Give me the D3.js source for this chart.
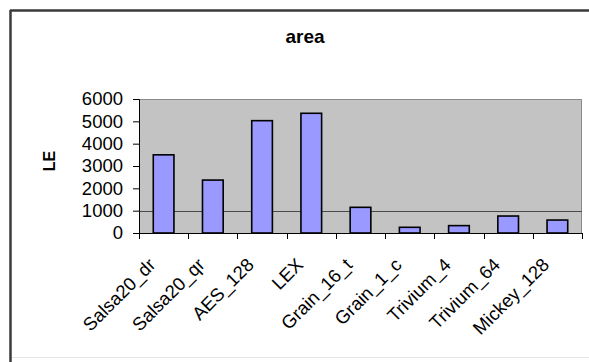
<html>

<head>
    <script src="https://d3js.org/d3.v7.min.js"></script>
    <style>
        body { margin: 0; background: #fff; }
        text { font-family: Arial, "Liberation Sans", sans-serif; fill: #000; }
    </style>
</head>

<body>
    <div id="chart"></div>
    <script>
        const ciphers = ["Salsa20_dr", "Salsa20_qr", "AES_128", "LEX", "Grain_16_t", "Grain_1_c", "Trivium_4", "Trivium_64", "Mickey_128"];
        const areaLE = [3500, 2370, 5030, 5360, 1150, 255, 330, 760, 580];
        const yTicks = [0, 1000, 2000, 3000, 4000, 5000, 6000];
        const gridValues = [1000];

        const svg = d3.select("#chart")
            .append("svg")
            .attr("width", 589)
            .attr("height", 362);

        // outer chart frame
        svg.append("rect").attr("width", 589).attr("height", 362).attr("fill", "#fff");
        svg.append("line").attr("x1", 10).attr("x2", 589).attr("y1", 10.5).attr("y2", 10.5)
            .attr("stroke", "#3a3a3a").attr("stroke-width", 2.5);
        svg.append("line").attr("x1", 10.5).attr("x2", 10.5).attr("y1", 10).attr("y2", 362)
            .attr("stroke", "#3a3a3a").attr("stroke-width", 2.5);
        svg.append("line").attr("x1", 12).attr("x2", 589).attr("y1", 357.5).attr("y2", 357.5)
            .attr("stroke", "#e4e4e4").attr("stroke-width", 1);

        const margins = { top: 99, right: 7, bottom: 129, left: 139 };
        const chartWidth = 589 - margins.left - margins.right;
        const chartHeight = 362 - margins.top - margins.bottom;

        const xScale = d3.scaleBand().domain(ciphers).range([0, chartWidth])
            .paddingInner(0.58).paddingOuter(0.29);
        const yScale = d3.scaleLinear().domain([0, 6000]).range([chartHeight, 0]);

        const chartArea = svg.append("g")
            .attr("transform", "translate(" + margins.left + "," + margins.top + ")");

        // plot area
        chartArea.append("rect")
            .attr("width", chartWidth).attr("height", chartHeight)
            .attr("fill", "#c3c3c3");
        chartArea.append("path")
            .attr("d", "M0,0.5H" + (chartWidth - 0.5) + "V" + chartHeight)
            .attr("fill", "none").attr("stroke", "#8a8a8a").attr("stroke-width", 1);

        chartArea.selectAll(".grid").data(gridValues)
            .join("line")
            .attr("class", "grid")
            .attr("x1", 0).attr("x2", chartWidth)
            .attr("y1", d => Math.round(yScale(d)) + 0.5)
            .attr("y2", d => Math.round(yScale(d)) + 0.5)
            .attr("stroke", "#4a4a4a").attr("stroke-width", 1);

        chartArea.selectAll(".bar").data(areaLE)
            .join("rect")
            .attr("class", "bar")
            .attr("x", (d, i) => xScale(ciphers[i]))
            .attr("y", d => yScale(d))
            .attr("width", xScale.bandwidth())
            .attr("height", d => chartHeight - yScale(d))
            .attr("fill", "#9999ff")
            .attr("stroke", "#000")
            .attr("stroke-width", 1.6);

        // y axis
        const leftAxis = d3.axisLeft(yScale).tickValues(yTicks).tickSize(6).tickPadding(10)
            .tickFormat(d3.format("d"));
        const yAxisG = chartArea.append("g").call(leftAxis);
        yAxisG.select(".domain").attr("stroke", "#000");
        yAxisG.selectAll(".tick line").attr("stroke", "#000");
        yAxisG.selectAll("text").attr("font-size", 18.5).attr("font-family", "Arial, 'Liberation Sans', sans-serif")
            .attr("fill", "#000");

        // x axis: ticks at category boundaries
        const step = xScale.step();
        const xAxisG = chartArea.append("g").attr("transform", "translate(0," + chartHeight + ")");
        xAxisG.append("line").attr("x1", 0).attr("x2", chartWidth).attr("y1", 0.5).attr("y2", 0.5)
            .attr("stroke", "#000");
        xAxisG.selectAll(".xtick").data(d3.range(ciphers.length + 1))
            .join("line")
            .attr("class", "xtick")
            .attr("x1", i => Math.round(i * step) + 0.5).attr("x2", i => Math.round(i * step) + 0.5)
            .attr("y1", 0).attr("y2", 6)
            .attr("stroke", "#000");
        xAxisG.selectAll(".xlabel").data(ciphers)
            .join("text")
            .attr("class", "xlabel")
            .attr("text-anchor", "end")
            .attr("font-size", 18.5)
            .attr("transform", d => "translate(" + (xScale(d) + xScale.bandwidth() / 2 - 7) + ",33) rotate(-45)")
            .text(d => d);

        // titles
        svg.append("text").attr("x", 305).attr("y", 43)
            .attr("text-anchor", "middle").attr("font-size", 19).attr("font-weight", "bold")
            .text("area");
        svg.append("text")
            .attr("transform", "translate(55,161) rotate(-90)")
            .attr("text-anchor", "middle").attr("font-size", 16).attr("font-weight", "bold")
            .text("LE");
    </script>
</body>

</html>
